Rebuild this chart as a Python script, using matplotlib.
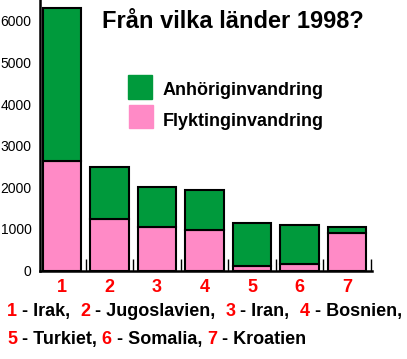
import numpy as np
import matplotlib.pyplot as plt

# Data
countries = ['Irak', 'Jugoslavien', 'Iran', 'Bosnien', 'Turkiet', 'Somalia', 'Kroatien']
numbers = ['1', '2', '3', '4', '5', '6', '7']
flykting = [2620, 1245, 1040, 965, 115, 150, 895]
anhorig = [3680, 1235, 960, 965, 1020, 935, 145]
yticks = [0, 1000, 2000, 3000, 4000, 5000, 6000]

plt.rcParams['font.family'] = ['Liberation Sans', 'DejaVu Sans']

fig = plt.figure(figsize=(4.07, 3.59), dpi=100)
W, H = 407, 359
ax = fig.add_axes([40 / W, 88.5 / H, (371.7 - 40) / W, (359 - 88.5) / H])

x = np.arange(len(countries))
green = '#009a3c'
pink = '#ff8ac6'
ax.bar(x, flykting, width=0.81, color=pink, edgecolor='black', linewidth=1.5)
ax.bar(x, anhorig, bottom=flykting, width=0.81, color=green,
       edgecolor='black', linewidth=1.5)

ax.set_xlim(-0.463, 6.52)
ax.set_ylim(0, 6500)

# Axes look
for s in ['top', 'right']:
    ax.spines[s].set_visible(False)
ax.spines['left'].set_linewidth(1.8)
ax.spines['bottom'].set_linewidth(1.8)
ax.set_yticks(yticks)
ax.set_yticklabels([str(v) for v in yticks], fontsize=10)
ax.tick_params(axis='y', length=0, pad=6)
ax.set_xticks(x + 0.5)
ax.set_xticklabels([])
ax.tick_params(axis='x', direction='in', length=9, width=1, color='black')

# red numbers under the bars
for xi, n in zip(x, numbers):
    ax.text(xi, -400, n, color='red', fontsize=13, fontweight='bold',
            ha='center', va='center', clip_on=False)

# Title
fig.text(233 / W, 1 - 21 / H, 'Från vilka länder 1998?', fontsize=17,
         fontweight='bold', ha='center', va='center')

# Legend drawn by hand
fig.patches.append(plt.Rectangle((128 / W, 1 - 98.5 / H), 24 / W, 23.5 / H,
                                 transform=fig.transFigure, color=green))
fig.patches.append(plt.Rectangle((129 / W, 1 - 128 / H), 24 / W, 23 / H,
                                 transform=fig.transFigure, color=pink))
fig.text(163 / W, 1 - 95 / H, 'Anhöriginvandring', fontsize=13,
         fontweight='bold', va='baseline')
fig.text(163 / W, 1 - 126 / H, 'Flyktinginvandring', fontsize=13,
         fontweight='bold', va='baseline')


# Key text below the chart, numbers red and names black
def key_line(items, x0, y0):
    prev = fig.text(x0 / W, 1 - y0 / H, '', fontsize=13, va='baseline')
    for text, col in items:
        prev = ax.annotate(text, xy=(1, 0), xycoords=prev, va='bottom',
                           ha='left', color=col, fontsize=13,
                           fontweight='bold', annotation_clip=False)


line1 = []
for i in range(4):
    line1.append((numbers[i], 'red'))
    line1.append((' - ' + countries[i] + (',  ' if i < 3 else ','), 'black'))
line2 = []
for i in range(4, 7):
    line2.append((numbers[i], 'red'))
    line2.append((' - ' + countries[i] + (', ' if i < 6 else ''), 'black'))

key_line(line1, 7, 320)
key_line(line2, 7, 348)

fig.savefig('out.png', dpi=100)
